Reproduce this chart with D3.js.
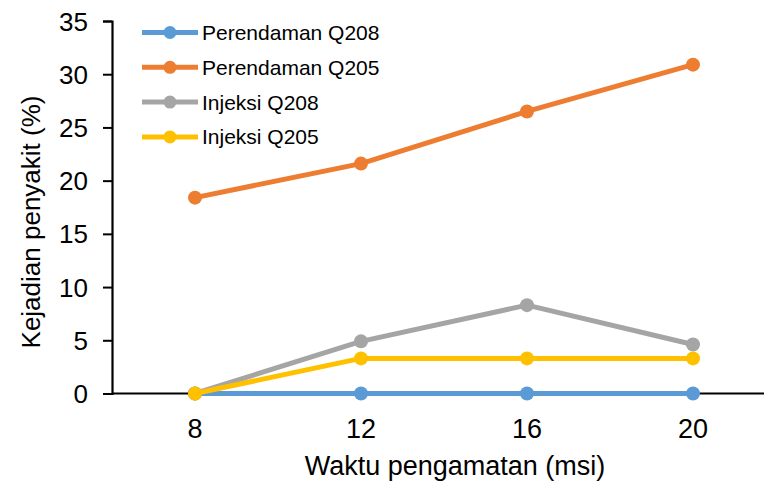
<!DOCTYPE html>
<html>
<head>
<meta charset="utf-8">
<script src="https://cdn.jsdelivr.net/npm/d3@7"></script>
<style>
  body { margin: 0; background: #fff; }
  svg text { font-family: 'Liberation Sans', Arial, sans-serif; fill: #000; }
</style>
</head>
<body>
<svg id="chart" width="764" height="484"></svg>
<script>
const categories = ['8', '12', '16', '20']
const seriesNames = ['Perendaman Q208', 'Perendaman Q205', 'Injeksi Q208', 'Injeksi Q205']
const perendamanQ208 = [0, 0, 0, 0]
const perendamanQ205 = [18.4, 21.6, 26.5, 30.9]
const injeksiQ208 = [0, 4.9, 8.3, 4.6]
const injeksiQ205 = [0, 3.3, 3.3, 3.3]
const yTicks = [0, 5, 10, 15, 20, 25, 30, 35]
const colors = ['#5B9BD5', '#ED7D31', '#A5A5A5', '#FFC000']

const series = [perendamanQ208, perendamanQ205, injeksiQ208, injeksiQ205]
  .map((values, i) => ({ name: seriesNames[i], color: colors[i], values }))

const svg = d3.select('#chart')
const font = "'Liberation Sans', Arial, sans-serif"
const margin = { left: 112, top: 21 }
const plotBottom = 393.5

// excel style: categories sit in the middle of bands, plot runs past the right edge
const x = d3.scaleBand().domain(categories).range([margin.left, margin.left + 166 * 4])
const y = d3.scaleLinear().domain([0, 35]).range([plotBottom, margin.top])
const cx = (d, i) => x(categories[i]) + x.bandwidth() / 2

// y axis
const gY = svg.append('g').attr('transform', `translate(${margin.left},0)`)
  .call(d3.axisLeft(y).tickValues(yTicks).tickSize(9).tickPadding(15))
gY.select('.domain').attr('stroke', '#000').attr('stroke-width', 2.2)
gY.selectAll('.tick line').attr('stroke', '#000').attr('stroke-width', 2)
gY.selectAll('.tick text').style('font-size', '26px').attr('dy', '0.35em')
  .style('font-family', font)

// x axis, no tick marks
const gX = svg.append('g').attr('transform', `translate(0,${plotBottom})`)
  .call(d3.axisBottom(x).tickSize(0).tickPadding(0))
gX.select('.domain').attr('d', `M${margin.left},0H764`).attr('stroke', '#000').attr('stroke-width', 2.2)
gX.selectAll('.tick text').style('font-size', '27px').attr('dy', null).attr('y', 44)
  .style('font-family', font)

// titles
svg.append('text')
  .attr('x', 455).attr('y', 475)
  .attr('text-anchor', 'middle')
  .style('font-size', '27px')
  .text('Waktu pengamatan (msi)')
svg.append('text')
  .attr('transform', 'translate(40,222) rotate(-90)')
  .attr('text-anchor', 'middle')
  .style('font-size', '26px')
  .text('Kejadian penyakit (%)')

// lines and markers
const line = d3.line().x(cx).y((d) => y(d))
const gSeries = svg.append('g').selectAll('g').data(series).enter().append('g')
gSeries.append('path')
  .attr('d', (s) => line(s.values))
  .attr('fill', 'none')
  .attr('stroke', (s) => s.color)
  .attr('stroke-width', 5)
  .attr('stroke-linejoin', 'round')
gSeries.selectAll('circle')
  .data((s) => s.values.map((v) => ({ v, color: s.color })))
  .enter().append('circle')
  .attr('cx', (d, i) => cx(d, i))
  .attr('cy', (d) => y(d.v))
  .attr('r', 7)
  .attr('fill', (d) => d.color)

// legend
const legend = svg.append('g').selectAll('g').data(series).enter().append('g')
  .attr('transform', (d, i) => `translate(142,${32.5 + i * 34.8})`)
legend.append('line')
  .attr('x1', 0).attr('x2', 56).attr('y1', 0).attr('y2', 0)
  .attr('stroke', (d) => d.color).attr('stroke-width', 5)
legend.append('circle').attr('cx', 28).attr('cy', 0).attr('r', 6.5)
  .attr('fill', (d) => d.color)
legend.append('text')
  .attr('x', 60).attr('y', 0).attr('dy', '0.36em')
  .style('font-size', '21px')
  .text((d) => d.name)
</script>
</body>
</html>
